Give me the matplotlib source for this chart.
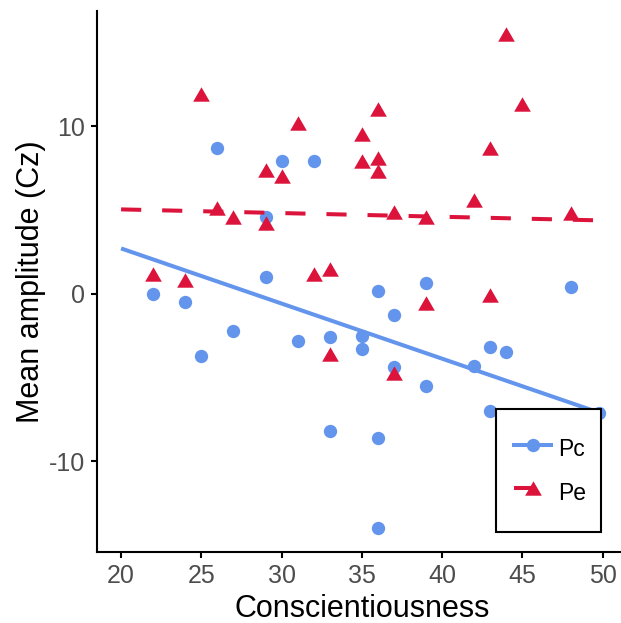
import numpy as np
import matplotlib
matplotlib.use('Agg')
import matplotlib.pyplot as plt
from matplotlib.lines import Line2D
from matplotlib.patches import Rectangle

plt.rcParams['font.family'] = ['Liberation Sans', 'DejaVu Sans']
plt.rcParams['axes.unicode_minus'] = False

# Pc (circles)
pc_x = [22, 24, 25, 26, 27, 29, 29, 30, 31, 32, 33, 33, 35, 35, 36, 36, 36, 37, 37, 39, 39, 42, 43, 43, 44, 48, 49.8]
pc_y = [0.0, -0.5, -3.7, 8.7, -2.2, 4.6, 1.0, 7.9, -2.8, 7.9, -2.6, -8.2, -2.5, -3.3, 0.15, -8.6, -14.0,
        -1.3, -4.4, 0.65, -5.5, -4.3, -3.2, -7.0, -3.5, 0.4, -7.15]

# Pe (triangles)
pe_x = [22, 24, 25, 26, 27, 29, 29, 30, 31, 32, 33, 33, 35, 35, 36, 36, 36, 37, 37, 39, 39, 42, 43, 43, 44, 45, 48]
pe_y = [1.2, 0.8, 11.9, 5.1, 4.6, 7.4, 4.2, 7.0, 10.2, 1.2, 1.45, -3.6, 9.5, 7.9, 11.0, 8.1, 7.35,
        4.9, -4.75, 4.55, -0.55, 5.6, 8.7, -0.1, 15.5, 11.3, 4.8]

# fitted lines
fit_x = [20, 50]
pc_fit = [2.7, -7.17]
pe_fit = [5.03, 4.37]

x_ticks = [20, 25, 30, 35, 40, 45, 50]
y_ticks = [-10, 0, 10]

blue = '#6495ED'
red = '#DC143C'
tri = [(-1, -0.866), (1, -0.866), (0, 0.866)]

fig = plt.figure(figsize=(6.21, 6.23), dpi=100)
ax = fig.add_axes([97/621, 1 - 551.7/623, 529.7/621, 540.7/623])

ax.plot(pc_x, pc_y, linestyle='none', marker='o', markersize=9.6, markeredgewidth=0, color=blue, zorder=2)
ax.plot(pe_x, pe_y, linestyle='none', marker=tri, markersize=12, markeredgewidth=0, color=red, zorder=2)
ax.plot(fit_x, pc_fit, color=blue, lw=2.9, solid_capstyle='butt', zorder=3)
ax.plot(fit_x, pe_fit, color=red, lw=2.9, linestyle=(0, (5, 5.2)), dash_capstyle='butt', zorder=3)

ax.set_xlim(18.5, 51.5)
ax.set_ylim(-15.4, 16.87)
ax.set_xticks(x_ticks)
ax.set_yticks(y_ticks)
for s in ['top', 'right']:
    ax.spines[s].set_visible(False)
for s in ['left', 'bottom']:
    ax.spines[s].set_linewidth(1.5)
    ax.spines[s].set_color('black')
ax.tick_params(length=4.5, width=1.5, color='black', labelcolor='#4D4D4D', labelsize=18, pad=4)

ax.set_xlabel('Conscientiousness', fontsize=22, labelpad=5)
ax.set_ylabel('Mean amplitude (Cz)', fontsize=22, labelpad=2)

# legend box (ggplot style, sits over the points)
box = Rectangle((496/621, 1 - 532/623), 105/621, 123/623, transform=fig.transFigure,
                facecolor='white', edgecolor='black', lw=1.5, zorder=4, clip_on=False)
ax.add_patch(box)

handles = [
    Line2D([], [], color=blue, lw=2.9, marker='o', markersize=9.6, markeredgewidth=0),
    Line2D([], [], color=red, lw=2.9, linestyle=(0, (5, 5.2)), marker=tri, markersize=12, markeredgewidth=0),
]
leg = ax.legend(handles, ['Pc', 'Pe'], loc='center', bbox_to_anchor=(550/621, 1 - 470.5/623),
                bbox_transform=fig.transFigure, fontsize=16.5, frameon=False, numpoints=1,
                handlelength=1.6, handleheight=1.6, handletextpad=0.3, labelspacing=0.6,
                borderpad=0, borderaxespad=0)
leg.set_zorder(5)

fig.savefig('out.png', dpi=100)
